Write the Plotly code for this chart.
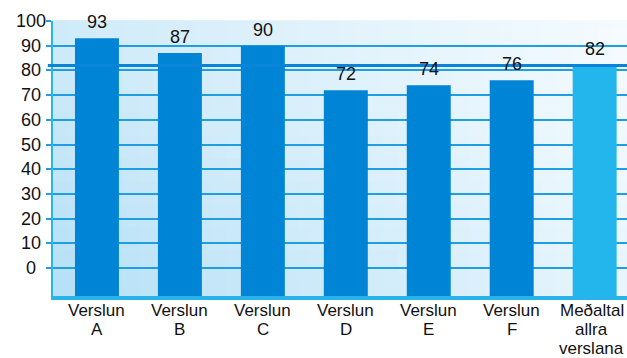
import plotly.graph_objects as go

categories = ["Verslun A", "Verslun B", "Verslun C", "Verslun D",
              "Verslun E", "Verslun F", "Meðaltal allra verslana"]
category_lines = [["Verslun", "A"], ["Verslun", "B"], ["Verslun", "C"], ["Verslun", "D"],
                  ["Verslun", "E"], ["Verslun", "F"], ["Meðaltal", "allra", "verslana"]]
values = [93, 87, 90, 72, 74, 76, 82]
bar_colors = ["#0084d6"] * 6 + ["#22b6ec"]
average_value = 82
y_ticks = list(range(0, 101, 10))

Y_MIN, Y_MAX = -11.3, 100
FONT = "Liberation Sans, Arial"
TXT = "#111111"

fig = go.Figure()

fig.add_trace(go.Bar(
    x=categories, y=[v - Y_MIN for v in values], base=Y_MIN, width=0.53,
    marker=dict(color=bar_colors, line=dict(width=0)),
    hoverinfo="skip",
))

annotations = []
# value labels above bars
for c, v in zip(categories, values):
    annotations.append(dict(x=c, y=v, xref="x", yref="y", text=str(v), showarrow=False,
                            yanchor="middle", yshift=16,
                            font=dict(size=18, color=TXT, family=FONT)))
# category labels (multi-line, tight spacing)
line_shifts = [-14.5, -33.5, -52.5]
for idx, (c, lines) in enumerate(zip(categories, category_lines)):
    for k, t in enumerate(lines):
        annotations.append(dict(x=c, y=0, xref="x", yref="paper", text=t, showarrow=False,
                                yanchor="middle", yshift=line_shifts[k], borderpad=0,
                                xshift=-3 if idx == len(categories) - 1 else 0,
                                font=dict(size=17, color=TXT, family=FONT)))
# y tick labels, centred
for t in y_ticks:
    annotations.append(dict(x=-22 / 574, y=t, xref="paper", yref="y", text=str(t),
                            showarrow=False, xanchor="center", yanchor="middle",
                            font=dict(size=18, color=TXT, family=FONT)))

# gradient background built from small cells
c00 = (181, 224, 246)  # bottom-left
c01 = (208, 235, 249)  # top-left
c10 = (232, 245, 253)  # bottom-right
c11 = (246, 251, 255)  # top-right
nx, ny = 40, 12
shapes = []
for i in range(nx):
    for j in range(ny):
        u = (i + 0.5) / nx
        v = (j + 0.5) / ny
        col = tuple(
            round(c00[k] * (1 - u) * (1 - v) + c01[k] * (1 - u) * v + c10[k] * u * (1 - v) + c11[k] * u * v)
            for k in range(3))
        shapes.append(dict(
            type="rect", xref="paper", yref="paper",
            x0=i / nx, x1=(i + 1) / nx + 0.002, y0=j / ny, y1=(j + 1) / ny + 0.003,
            fillcolor="rgb(%d,%d,%d)" % col, line=dict(width=0), layer="below"))

# average line
shapes.append(dict(type="line", xref="paper", yref="y", x0=-0.009, x1=1,
                   y0=average_value, y1=average_value,
                   line=dict(color="#0a84d8", width=3), layer="above"))

fig.update_layout(
    width=627, height=358,
    margin=dict(l=53, r=0, t=21, b=62),
    paper_bgcolor="white", plot_bgcolor="white",
    showlegend=False,
    shapes=shapes,
    annotations=annotations,
    font=dict(family=FONT, size=18, color=TXT),
    xaxis=dict(range=[-0.53, 6.39], showgrid=False, ticks="", showticklabels=False,
               automargin=False,
               showline=True, linecolor="#2ab4ec", linewidth=4, fixedrange=True),
    yaxis=dict(range=[Y_MIN, Y_MAX], tickvals=y_ticks, showgrid=True, showticklabels=False,
               automargin=False,
               gridcolor="#1f9fe2", gridwidth=1.5, zeroline=False,
               ticks="outside", ticklen=5, tickcolor="#1f9fe2", tickwidth=1.5,
               showline=True, linecolor="#2ab4ec", linewidth=2, fixedrange=True),
)

fig.write_html("out.html")
